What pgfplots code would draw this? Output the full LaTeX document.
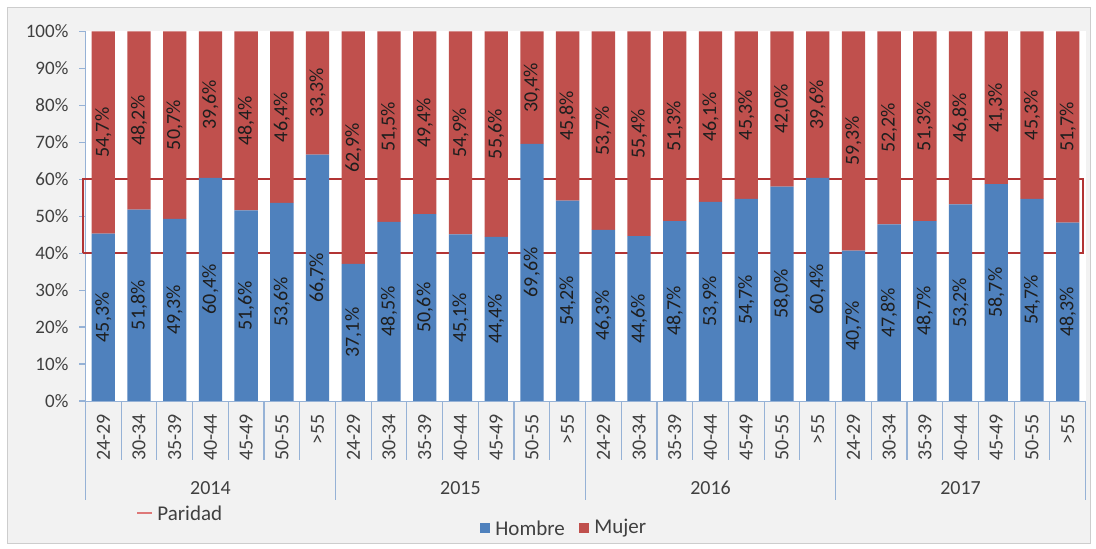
\documentclass[border=0pt]{standalone}
\usepackage{pgfplots}
\pgfplotsset{compat=1.18}
\usepackage{pgfplotstable}
\usepackage{fontspec}
\setmainfont{Carlito}

\definecolor{hblue}{RGB}{79,129,189}
\definecolor{mred}{RGB}{192,80,77}
\definecolor{axblue}{RGB}{150,178,214}
\definecolor{bg}{RGB}{242,242,242}
\definecolor{framec}{RGB}{205,205,205}
\definecolor{txt}{RGB}{64,64,64}
\definecolor{lbl}{RGB}{30,30,30}
\definecolor{par}{RGB}{178,52,52}
\definecolor{parleg}{RGB}{222,120,120}

\pgfplotstableread{
x h m
0 45.3 54.7
1 51.8 48.2
2 49.3 50.7
3 60.4 39.6
4 51.6 48.4
5 53.6 46.4
6 66.7 33.3
7 37.1 62.9
8 48.5 51.5
9 50.6 49.4
10 45.1 54.9
11 44.4 55.6
12 69.6 30.4
13 54.2 45.8
14 46.3 53.7
15 44.6 55.4
16 48.7 51.3
17 53.9 46.1
18 54.7 45.3
19 58.0 42.0
20 60.4 39.6
21 40.7 59.3
22 47.8 52.2
23 48.7 51.3
24 53.2 46.8
25 58.7 41.3
26 54.7 45.3
27 48.3 51.7
}\data

\pgfplotstableread{
x y
-0.57 40
27.43 40
27.43 60
-0.57 60
-0.57 40
}\paridad

\begin{document}
\begin{tikzpicture}
\useasboundingbox (0,0) rectangle (548pt,274.5pt);
\fill[white] (0,0) rectangle (548pt,274.5pt);
\draw[framec, fill=bg] (3.5pt,3pt) rectangle (545pt,271pt);

\begin{axis}[
  at={(42.7pt,74pt)}, anchor=south west, scale only axis,
  width=500.1pt, height=184.75pt,
  ybar stacked, bar width=11.65pt,
  xmin=-0.5, xmax=27.5, ymin=0, ymax=100,
  axis lines=left, axis line style={axblue,-},
  axis background/.style={fill=white},
  clip=false,
  /pgf/number format/assume math mode=true,
  ytick={0,10,...,100},
  yticklabel={\pgfmathprintnumber{\tick}\%},
  yticklabel style={font=\fontsize{9.5}{11}\selectfont, text=txt, xshift=-2pt},
  xtick={0,...,27},
  xticklabels={24-29,30-34,35-39,40-44,45-49,50-55,>55,
               24-29,30-34,35-39,40-44,45-49,50-55,>55,
               24-29,30-34,35-39,40-44,45-49,50-55,>55,
               24-29,30-34,35-39,40-44,45-49,50-55,>55},
  xticklabel style={rotate=90, anchor=east, font=\fontsize{10}{12}\selectfont, text=txt},
  minor xtick={-0.5,0.5,...,27.5},
  tick align=outside,
  major tick length=3pt,
  minor tick length=29.5pt,
  tick style={axblue, line width=0.6pt},
  major x tick style={draw=none},
  point meta=explicit,
  nodes near coords={\pgfmathprintnumber[fixed,fixed zerofill,precision=1,use comma]{\pgfplotspointmeta}\%},
  every node near coord/.append style={rotate=90, anchor=center, inner sep=0pt,
       font=\fontsize{10}{12}\selectfont, text=lbl},
]
\addplot[fill=hblue, draw=none] table[x=x, y=h, meta=h] {\data};
\addplot[fill=mred, draw=none] table[x=x, y=m, meta=m] {\data};
\addplot[sharp plot, stack plots=false, draw=par, line width=1pt, no markers, fill=none, forget plot, nodes near coords={}]
  table[x=x, y=y, meta=y] {\paridad};

\foreach \s in {-0.5,6.5,13.5,20.5,27.5}{
  \edef\temp{\noexpand\draw[axblue, line width=0.6pt] (axis cs:\s,0) -- ([yshift=-49.5pt]axis cs:\s,0);}
  \temp
}
\node[font=\fontsize{10}{12}\selectfont, text=txt] at ([yshift=-43.5pt]axis cs:3,0) {2014};
\node[font=\fontsize{10}{12}\selectfont, text=txt] at ([yshift=-43.5pt]axis cs:10,0) {2015};
\node[font=\fontsize{10}{12}\selectfont, text=txt] at ([yshift=-43.5pt]axis cs:17,0) {2016};
\node[font=\fontsize{10}{12}\selectfont, text=txt] at ([yshift=-43.5pt]axis cs:24,0) {2017};
\end{axis}

% legend
\draw[parleg, line width=1pt] (68.5pt,18pt) -- (76pt,18pt);
\node[anchor=west, inner sep=0pt, font=\fontsize{10.5}{12}\selectfont, text=txt] at (78.5pt,18pt) {Paridad};
\fill[hblue] (240pt,8pt) rectangle (245pt,13pt);
\node[anchor=west, inner sep=0pt, font=\fontsize{10.5}{12}\selectfont, text=txt] at (247.5pt,10.5pt) {Hombre};
\fill[mred] (289.5pt,8pt) rectangle (294.5pt,13pt);
\node[anchor=west, inner sep=0pt, font=\fontsize{10.5}{12}\selectfont, text=txt] at (297pt,10.5pt) {Mujer};
\end{tikzpicture}
\end{document}
